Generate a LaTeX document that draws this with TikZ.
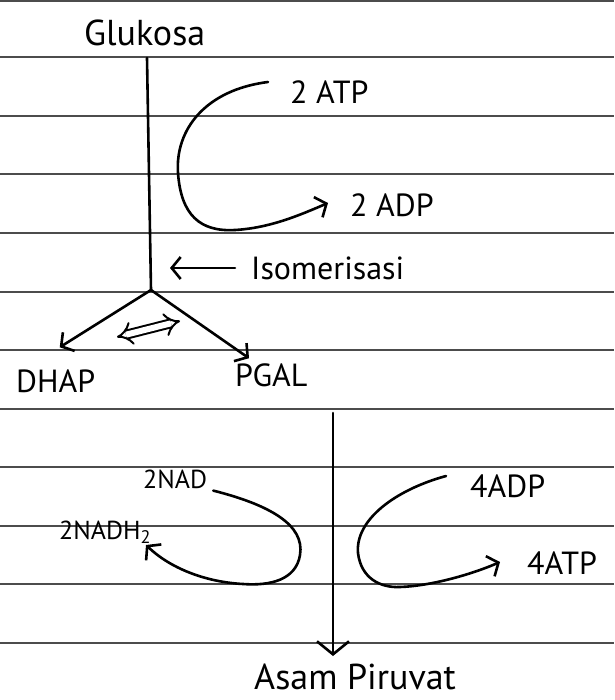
\documentclass[tikz,border=0pt]{standalone}
\usepackage{fontspec}
\setmainfont{PT Sans}
\usetikzlibrary{arrows.meta}

\begin{document}
\begin{tikzpicture}[x=1pt,y=-1pt,
    pen/.style={black, line width=2.6pt, line cap=round, line join=round},
    ruled/.style={black!70, line width=1.3pt},
    lbl/.style={inner sep=0pt, anchor=west, font=\fontsize{32}{38}\selectfont},
    smalllbl/.style={lbl, font=\fontsize{26}{30}\selectfont},
    >={Straight Barb[length=9pt,width=22pt]}]
    \useasboundingbox (0,0) rectangle (614,700);

    % lined paper
    \foreach \ly in {1,57,116,174,233,292,350,409,467,526,584,643}
      \draw[ruled] (0,\ly) -- (614,\ly);

    % upper half
    \node[lbl, font=\fontsize{36}{40}\selectfont] (glukosa) at (84,33) {Glukosa};
    \coordinate (top) at (147,58);
    \coordinate (split) at (151,290);
    \draw[pen] (top) -- (split);

    \node[lbl] (atp2) at (290,92) {2 ATP};
    \node[lbl] (adp2) at (350,205) {2 ADP};
    \draw[pen, ->] ([shift={(-22,-10)}]atp2.west) .. controls (205,90) and (175,130) .. (178,173)
      .. controls (181,215) and (200,232) .. (235,230)
      .. controls (270,228) and (300,215) .. ([shift={(-22,-2)}]adp2.west);

    \node[lbl] (isom) at (251,268) {Isomerisasi};
    \draw[pen, ->] ([xshift=-16pt]isom.west) -- ++(-65,0);

    \node[lbl] (dhap) at (16,381) {DHAP};
    \node[lbl] (pgal) at (235,375) {PGAL};
    \draw[pen, ->] (split) -- ([shift={(4,-22)}]dhap.north);
    \draw[pen, ->] (split) -- ([shift={(14,-5)}]pgal.north west);
    \draw[line width=2pt, double distance=6pt, {Implies}-{Implies}] (117,337) -- (180,321);

    % lower half
    \coordinate (mid) at (333,413);
    \coordinate (bottom) at (333,656);
    \node[lbl, font=\fontsize{36}{40}\selectfont] (piruvat) at (254,677) {Asam Piruvat};
    \draw[pen, -{Straight Barb[length=13pt,width=32pt]}] (mid) -- (bottom);

    \node[smalllbl] (nad) at (143,479) {2NAD};
    \node[smalllbl] (nadh) at (59,532) {2NADH\textsubscript{2}};
    \draw[pen, ->] ([shift={(6,2)}]nad.south east) .. controls (270,505) and (305,525) .. (300,555)
      .. controls (296,580) and (270,586) .. (243,584)
      .. controls (205,582) and (170,568) .. (146,545);

    \node[lbl] (adp4) at (470,486) {4ADP};
    \node[lbl] (atp4) at (527,563) {4ATP};
    \draw[pen, ->] ([shift={(-24,-10)}]adp4.west) .. controls (395,490) and (355,520) .. (358,553)
      .. controls (361,578) and (380,588) .. (400,587)
      .. controls (430,586) and (470,575) .. ([shift={(-27,-1)}]atp4.west);
\end{tikzpicture}
\end{document}
